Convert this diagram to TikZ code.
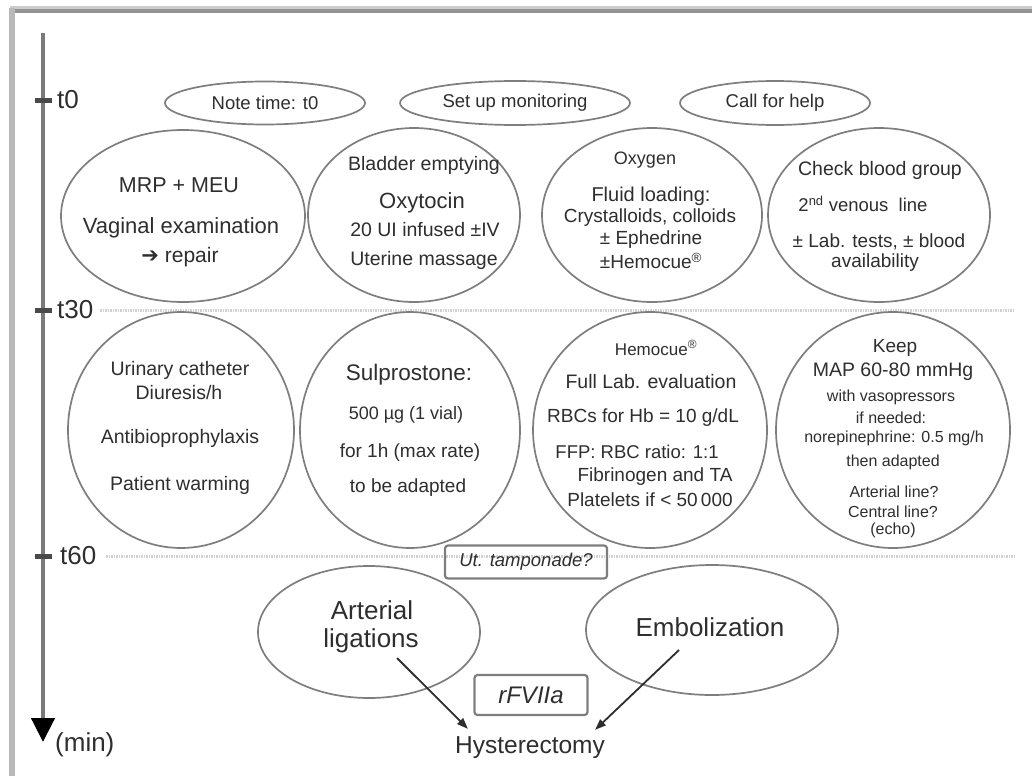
\documentclass[tikz,border=0pt]{standalone}
\usepackage{fontspec}
\setmainfont{Liberation Sans}
\newfontfamily\symfont{DejaVu Sans}
\usetikzlibrary{shapes.geometric,arrows.meta,calc}
\newcommand\setfs[1]{\fontsize{#1}{#1}\selectfont}
\definecolor{outline}{HTML}{7E7E7E}
\definecolor{ink}{HTML}{2E2E2E}
\definecolor{axisc}{HTML}{7A7A7A}
\definecolor{tickc}{HTML}{4A4A4A}

\begin{document}
\begin{tikzpicture}[x=1pt,y=-1pt,
  oval/.style={ellipse, draw=outline, line width=1.7pt, inner sep=0pt},
  ln/.style={text=ink, inner sep=0pt, font=\setfs{19.5}},
  sm/.style={text=ink, inner sep=0pt, font=\setfs{16}},
  big/.style={text=ink, inner sep=0pt, font=\setfs{26}},
  tagbox/.style={rectangle, draw=outline, line width=2.2pt, rounded corners=3pt,
                 text=ink, inner sep=0pt, font=\itshape},
  conn/.style={draw=ink, line width=1.8pt, -{Triangle[length=11pt,width=8pt]}},
  sepline/.style={draw=gray!35, line width=3pt, dash pattern=on 1.5pt off 1pt},
  tick/.style={draw=tickc, line width=5pt},
  ticklab/.style={anchor=west, text=ink, inner sep=0pt, font=\setfs{26}}
]
\useasboundingbox (0,0) rectangle (1032,776);
\fill[white] (0,0) rectangle (1032,776);

% frame
\draw[gray!40, line width=3pt] (10,7.5) -- (1032,7.5);
\draw[gray!85, line width=4pt] (10,11) -- (1032,11);
\draw[gray!55, line width=6pt] (11.5,8) -- (11.5,776);

% time axis
\coordinate (axtop) at (43,33);
\coordinate (axbot) at (43,742);
\draw[axisc, line width=4.5pt, -{Triangle[length=24pt,width=23pt,color=black]}] (axtop) -- (axbot);
\node[ticklab] (lmin) at (55,745) {(min)};

\coordinate (k0) at (43,100);
\coordinate (k30) at (43,310);
\coordinate (k60) at (43,556);
\draw[tick] ([xshift=-8pt]k0) -- ([xshift=9pt]k0);
\draw[tick] ([xshift=-8pt]k30) -- ([xshift=9pt]k30);
\draw[tick] ([xshift=-8pt]k60) -- ([xshift=9pt]k60);
\node[ticklab] (l0) at (57,100) {t0};
\node[ticklab] (l30) at (57,310) {t30};
\node[ticklab] (l60) at (60,556) {t60};

% phase separators
\coordinate (s30a) at (100,310);
\coordinate (s30b) at (1015,310);
\coordinate (s60a) at (106,556);
\coordinate (s60b) at (1015,556);
\draw[sepline] (s30a) -- (s30b);
\draw[sepline] (s60a) -- (s60b);

% t0: first actions
\node[oval, minimum width=200pt, minimum height=43pt] (n1) at (265,103) {};
\node[ln, font=\setfs{18.5}] (n1t) at (n1) {Note time: t0};
\node[oval, minimum width=230pt, minimum height=44pt] (n2) at (515,103) {};
\node[ln, font=\setfs{18.5}] (n2t) at (n2) {Set up monitoring};
\node[oval, minimum width=190pt, minimum height=44pt] (n3) at (775,103) {};
\node[ln, font=\setfs{18.5}] (n3t) at (n3) {Call for help};

% t0 - t30
\node[oval, minimum width=244pt, minimum height=172pt] (e1) at (183,216) {};
\node[ln, font=\setfs{21.5}] (e1a) at (179,185) {MRP + MEU};
\node[ln, font=\setfs{22}] (e1b) at (181,228) {Vaginal examination};
\node[ln, font=\setfs{21}] (e1c) at (180,257) {{\symfont ➔} repair};

\node[oval, minimum width=212pt, minimum height=174pt] (e2) at (414,215) {};
\node[ln] (e2a) at (424,165) {Bladder emptying};
\node[ln, font=\setfs{22}] (e2b) at (422,203) {Oxytocin};
\node[ln] (e2c) at (425,230) {20 UI infused ±IV};
\node[ln] (e2d) at (424,260) {Uterine massage};

\node[oval, minimum width=220pt, minimum height=174pt] (e3) at (652,215) {};
\node[ln, font=\setfs{18}] (e3a) at (645,160) {Oxygen};
\node[ln, font=\setfs{20}] (e3b) at (651,196) {Fluid loading:};
\node[ln, font=\setfs{19}] (e3c) at (650,218) {Crystalloids, colloids};
\node[ln, font=\setfs{19}] (e3d) at (651,240) {± Ephedrine};
\node[ln, font=\setfs{19}] (e3e) at (651,261) {±Hemocue\textsuperscript{®}};

\node[oval, minimum width=222pt, minimum height=174pt] (e4) at (879,215) {};
\node[ln, font=\setfs{19.5}] (e4a) at (880,170) {Check blood group};
\node[ln, font=\setfs{18.5}] (e4b) at (863,204) {2\textsuperscript{nd} venous\ \ line};
\node[ln, font=\setfs{19}] (e4c) at (879,242) {± Lab. tests, ± blood};
\node[ln, font=\setfs{19}] (e4d) at (875,263) {availability};

% t30 - t60
\node[oval, minimum width=226pt, minimum height=236pt] (c1) at (181,430) {};
\node[ln] (c1a) at (180,370) {Urinary catheter};
\node[ln] (c1b) at (179,393) {Diuresis/h};
\node[ln] (c1c) at (180,438) {Antibioprophylaxis};
\node[ln] (c1d) at (180,485) {Patient warming};

\node[oval, minimum width=220pt, minimum height=236pt] (c2) at (410,430) {};
\node[ln, font=\setfs{22.5}] (c2a) at (409,375) {Sulprostone:};
\node[ln, font=\setfs{18}] (c2b) at (406,415) {500 µg (1 vial)};
\node[ln, font=\setfs{19}] (c2c) at (410,453) {for 1h (max rate)};
\node[ln, font=\setfs{19}] (c2d) at (408,488) {to be adapted};

\node[oval, minimum width=234pt, minimum height=236pt] (c3) at (650,430) {};
\node[ln, font=\setfs{17}] (c3a) at (656,348) {Hemocue\textsuperscript{®}};
\node[ln] (c3b) at (651,382) {Full Lab. evaluation};
\node[ln, font=\setfs{19}] (c3c) at (643,418) {RBCs for Hb = 10 g/dL};
\node[ln, font=\setfs{18.5}] (c3d) at (637,452) {FFP: RBC ratio: 1:1};
\node[ln, font=\setfs{19}] (c3e) at (655,477) {Fibrinogen and TA};
\node[ln, font=\setfs{19}] (c3f) at (650,500) {Platelets if < 50\,000};

\node[oval, minimum width=234pt, minimum height=236pt] (c4) at (893,430) {};
\node[ln, font=\setfs{19}] (c4a) at (895,348) {Keep};
\node[ln, font=\setfs{19.5}] (c4b) at (893,372) {MAP 60-80 mmHg};
\node[sm] (c4c) at (891,397) {with vasopressors};
\node[sm] (c4d) at (891,418) {if needed:};
\node[sm] (c4e) at (894,438) {norepinephrine: 0.5 mg/h};
\node[sm] (c4f) at (893,462) {then adapted};
\node[sm] (c4g) at (894,492) {Arterial line?};
\node[sm] (c4h) at (893,512) {Central line?};
\node[sm] (c4i) at (893,530) {(echo)};

% after t60
\node[tagbox, minimum width=162pt, minimum height=33pt, font=\itshape\setfs{18.5}] (tamp) at (526,562) {Ut. tamponade?};

\node[oval, minimum width=222pt, minimum height=132pt] (art) at (369,632) {};
\node[big] (arta) at (372,610) {Arterial};
\node[big] (artb) at (371,641) {ligations};

\node[oval, minimum width=252pt, minimum height=130pt] (emb) at (712,630) {};
\node[big] (embt) at (710,627) {Embolization};

\node[tagbox, minimum width=113pt, minimum height=40pt, font=\itshape\setfs{24}] (rf) at (531,695) {rFVIIa};

\node[big, font=\setfs{24.5}] (hyst) at (530,748) {Hysterectomy};

\coordinate (artout) at (397,658);
\coordinate (embout) at (679,650);
\draw[conn] (artout) -- ([shift={(13,-8)}]hyst.north west);
\draw[conn] (embout) -- ([shift={(-10,-7)}]hyst.north east);
\end{tikzpicture}
\end{document}
